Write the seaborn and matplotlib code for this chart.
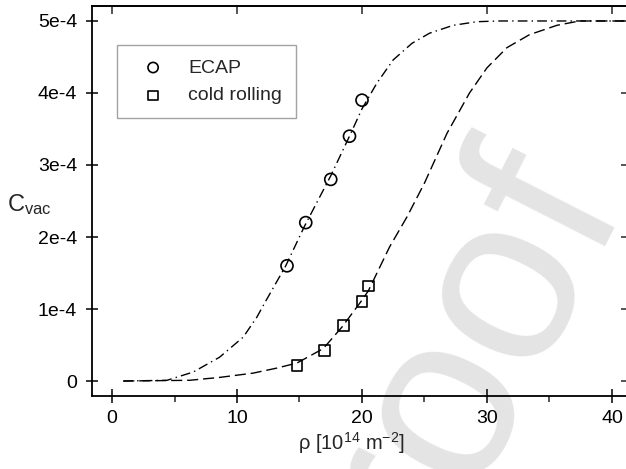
import matplotlib
matplotlib.use("Agg")
import matplotlib.pyplot as plt
import seaborn as sns
from matplotlib.ticker import FixedLocator

# measured points (C_vac in units of 1e-4)
ecap_rho = [14.0, 15.5, 17.5, 19.0, 20.0]
ecap_cvac = [1.6, 2.2, 2.8, 3.4, 3.9]
cold_rho = [14.8, 17.0, 18.5, 20.0, 20.5]
cold_cvac = [0.22, 0.43, 0.77, 1.11, 1.32]

# fitted curves
ecap_fit_rho = [0.9, 4.4, 6.5, 8.6, 10.5, 11.6, 12.2, 13.9, 15.4, 17.5, 19.0,
                20.0, 21.2, 22.5, 24.0, 25.4, 27.3, 29.2, 31.0, 41.0]
ecap_fit_cvac = [0.0, 0.01, 0.125, 0.33, 0.61, 0.89, 1.08, 1.6, 2.15, 2.85, 3.4,
                 3.78, 4.14, 4.46, 4.69, 4.83, 4.94, 4.99, 5.0, 5.0]
cold_fit_rho = [0.9, 6.2, 8.6, 11.3, 13.2, 14.8, 16.9, 18.4, 19.9, 20.5, 22.2,
                23.6, 25.0, 26.8, 28.6, 30.0, 31.6, 33.4, 35.6, 37.4, 41.0]
cold_fit_cvac = [0.0, 0.01, 0.05, 0.11, 0.18, 0.25, 0.45, 0.75, 1.1, 1.25, 1.86,
                 2.28, 2.75, 3.44, 4.0, 4.35, 4.63, 4.81, 4.94, 5.0, 5.0]

x_ticks = [0, 10, 20, 30, 40]
x_minor = [5, 15, 25, 35]
y_ticks = [0, 1, 2, 3, 4, 5]
y_labels = ["0", "1e-4", "2e-4", "3e-4", "4e-4", "5e-4"]

sns.set_theme(style="ticks")
plt.rcParams["font.family"] = ["Liberation Sans", "DejaVu Sans"]
plt.rcParams["mathtext.default"] = "regular"

fig = plt.figure(figsize=(6.26, 4.69), dpi=100)
ax = fig.add_axes([92 / 626, 1 - 396 / 469, 537 / 626, 390 / 469])
ax.set_facecolor("none")

# watermark behind the axes
fig.text(0.702, 0.135, "proof", rotation=63, fontsize=172, color="#e4e4e4",
         ha="center", va="center", rotation_mode="anchor", zorder=-1)

sns.lineplot(x=ecap_fit_rho, y=ecap_fit_cvac, ax=ax, color="black", lw=1.0,
             linestyle=(0, (7, 3, 1, 3)), sort=False)
sns.lineplot(x=cold_fit_rho, y=cold_fit_cvac, ax=ax, color="black", lw=1.0,
             linestyle=(0, (8, 3.5)), sort=False)
sns.scatterplot(x=ecap_rho, y=ecap_cvac, ax=ax, marker="o", s=75,
                facecolor="none", edgecolor="black", linewidth=1.2,
                label="ECAP", zorder=3)
sns.scatterplot(x=cold_rho, y=cold_cvac, ax=ax, marker="s", s=62,
                facecolor="none", edgecolor="black", linewidth=1.2,
                label="cold rolling", zorder=3)

ax.set_xlim(-1.6, 41.36)
ax.set_ylim(-0.208, 5.208)
ax.xaxis.set_major_locator(FixedLocator(x_ticks))
ax.xaxis.set_minor_locator(FixedLocator(x_minor))
ax.set_xticklabels([str(t) for t in x_ticks])
ax.set_yticks(y_ticks)
ax.set_yticklabels(y_labels)

for s in ax.spines.values():
    s.set_linewidth(1.3)
    s.set_color("black")

ax.tick_params(axis="x", which="major", direction="inout", length=10, width=1.1,
               pad=5, labelsize=14, colors="black")
ax.tick_params(axis="x", which="minor", direction="out", length=4, width=1.1)
ax.tick_params(axis="y", which="major", direction="inout", length=8.6, width=1.1,
               pad=6.5, labelsize=14, colors="black")

top = ax.secondary_xaxis("top")
top.xaxis.set_major_locator(FixedLocator(x_ticks))
top.tick_params(direction="in", length=5.5, width=1.1, labeltop=False)
top.spines["top"].set_linewidth(1.3)
right = ax.secondary_yaxis("right")
right.set_yticks(y_ticks)
right.tick_params(direction="in", length=5.5, width=1.1, labelright=False)

ax.set_xlabel(r"ρ [10$^{14}$ m$^{-2}$]", fontsize=14.5)
ax.xaxis.set_label_coords(0.483, -0.088)
ax.set_ylabel(r"C$_{vac}$", fontsize=17, rotation=0, ha="center", va="center")
ax.yaxis.set_label_coords(-0.116, 0.49)

leg = ax.legend(loc="upper left", bbox_to_anchor=(0.0466, 0.9), borderaxespad=0,
                fontsize=14, frameon=True, fancybox=False, edgecolor="#8c8c8c",
                handlelength=2.27, handletextpad=0.67, borderpad=0.72,
                labelspacing=0.52, markerscale=0.85)
leg.get_frame().set_linewidth(1.0)

fig.savefig("out.png", dpi=100)
